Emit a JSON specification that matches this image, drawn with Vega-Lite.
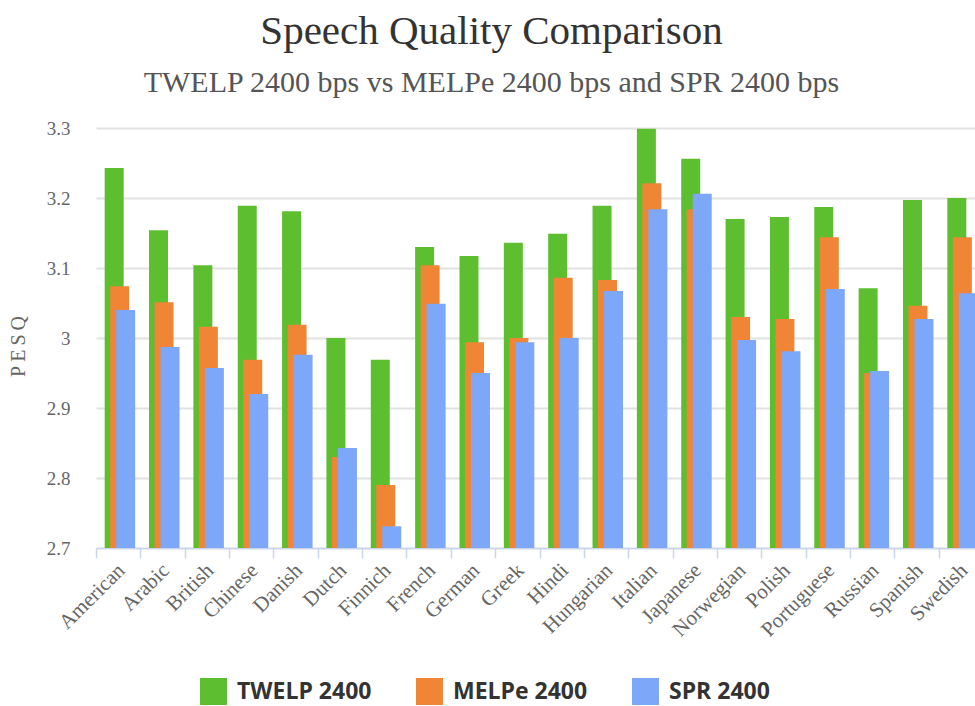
{
  "$schema": "https://vega.github.io/schema/vega-lite/v6.json",
  "autosize": {"type": "none"},
  "width": 879,
  "height": 420,
  "padding": {"left": 96, "top": 128, "right": 0, "bottom": 158},
  "background": "white",
  "config": {
    "view": {"stroke": null},
    "font": "Liberation Serif"
  },
  "title": {
    "text": "Speech Quality Comparison",
    "subtitle": "TWELP 2400 bps vs MELPe 2400 bps and SPR 2400 bps",
    "anchor": "middle",
    "dx": -44,
    "offset": 20,
    "font": "Liberation Serif",
    "fontSize": 41,
    "fontWeight": "normal",
    "color": "#333333",
    "subtitleFont": "Liberation Serif",
    "subtitleFontSize": 30,
    "subtitleColor": "#555555",
    "subtitlePadding": 15
  },
  "data": {
    "values": [
      {"lang": "American", "codec": "TWELP 2400", "pesq": 3.243},
      {"lang": "American", "codec": "MELPe 2400", "pesq": 3.074},
      {"lang": "American", "codec": "SPR 2400", "pesq": 3.040},
      {"lang": "Arabic", "codec": "TWELP 2400", "pesq": 3.154},
      {"lang": "Arabic", "codec": "MELPe 2400", "pesq": 3.051},
      {"lang": "Arabic", "codec": "SPR 2400", "pesq": 2.987},
      {"lang": "British", "codec": "TWELP 2400", "pesq": 3.104},
      {"lang": "British", "codec": "MELPe 2400", "pesq": 3.016},
      {"lang": "British", "codec": "SPR 2400", "pesq": 2.957},
      {"lang": "Chinese", "codec": "TWELP 2400", "pesq": 3.189},
      {"lang": "Chinese", "codec": "MELPe 2400", "pesq": 2.969},
      {"lang": "Chinese", "codec": "SPR 2400", "pesq": 2.920},
      {"lang": "Danish", "codec": "TWELP 2400", "pesq": 3.181},
      {"lang": "Danish", "codec": "MELPe 2400", "pesq": 3.019},
      {"lang": "Danish", "codec": "SPR 2400", "pesq": 2.976},
      {"lang": "Dutch", "codec": "TWELP 2400", "pesq": 3.000},
      {"lang": "Dutch", "codec": "MELPe 2400", "pesq": 2.830},
      {"lang": "Dutch", "codec": "SPR 2400", "pesq": 2.843},
      {"lang": "Finnich", "codec": "TWELP 2400", "pesq": 2.969},
      {"lang": "Finnich", "codec": "MELPe 2400", "pesq": 2.790},
      {"lang": "Finnich", "codec": "SPR 2400", "pesq": 2.731},
      {"lang": "French", "codec": "TWELP 2400", "pesq": 3.130},
      {"lang": "French", "codec": "MELPe 2400", "pesq": 3.104},
      {"lang": "French", "codec": "SPR 2400", "pesq": 3.049},
      {"lang": "German", "codec": "TWELP 2400", "pesq": 3.117},
      {"lang": "German", "codec": "MELPe 2400", "pesq": 2.994},
      {"lang": "German", "codec": "SPR 2400", "pesq": 2.950},
      {"lang": "Greek", "codec": "TWELP 2400", "pesq": 3.136},
      {"lang": "Greek", "codec": "MELPe 2400", "pesq": 3.000},
      {"lang": "Greek", "codec": "SPR 2400", "pesq": 2.994},
      {"lang": "Hindi", "codec": "TWELP 2400", "pesq": 3.149},
      {"lang": "Hindi", "codec": "MELPe 2400", "pesq": 3.086},
      {"lang": "Hindi", "codec": "SPR 2400", "pesq": 3.000},
      {"lang": "Hungarian", "codec": "TWELP 2400", "pesq": 3.189},
      {"lang": "Hungarian", "codec": "MELPe 2400", "pesq": 3.083},
      {"lang": "Hungarian", "codec": "SPR 2400", "pesq": 3.067},
      {"lang": "Italian", "codec": "TWELP 2400", "pesq": 3.299},
      {"lang": "Italian", "codec": "MELPe 2400", "pesq": 3.221},
      {"lang": "Italian", "codec": "SPR 2400", "pesq": 3.184},
      {"lang": "Japanese", "codec": "TWELP 2400", "pesq": 3.256},
      {"lang": "Japanese", "codec": "MELPe 2400", "pesq": 3.184},
      {"lang": "Japanese", "codec": "SPR 2400", "pesq": 3.206},
      {"lang": "Norwegian", "codec": "TWELP 2400", "pesq": 3.170},
      {"lang": "Norwegian", "codec": "MELPe 2400", "pesq": 3.030},
      {"lang": "Norwegian", "codec": "SPR 2400", "pesq": 2.997},
      {"lang": "Polish", "codec": "TWELP 2400", "pesq": 3.173},
      {"lang": "Polish", "codec": "MELPe 2400", "pesq": 3.027},
      {"lang": "Polish", "codec": "SPR 2400", "pesq": 2.981},
      {"lang": "Portuguese", "codec": "TWELP 2400", "pesq": 3.187},
      {"lang": "Portuguese", "codec": "MELPe 2400", "pesq": 3.144},
      {"lang": "Portuguese", "codec": "SPR 2400", "pesq": 3.070},
      {"lang": "Russian", "codec": "TWELP 2400", "pesq": 3.071},
      {"lang": "Russian", "codec": "MELPe 2400", "pesq": 2.950},
      {"lang": "Russian", "codec": "SPR 2400", "pesq": 2.953},
      {"lang": "Spanish", "codec": "TWELP 2400", "pesq": 3.197},
      {"lang": "Spanish", "codec": "MELPe 2400", "pesq": 3.046},
      {"lang": "Spanish", "codec": "SPR 2400", "pesq": 3.027},
      {"lang": "Swedish", "codec": "TWELP 2400", "pesq": 3.200},
      {"lang": "Swedish", "codec": "MELPe 2400", "pesq": 3.144},
      {"lang": "Swedish", "codec": "SPR 2400", "pesq": 3.064}
    ]
  },
  "encoding": {
    "x": {
      "field": "lang",
      "type": "nominal",
      "sort": null,
      "scale": {"range": [0, 887], "paddingInner": 0, "paddingOuter": 0},
      "axis": {
        "title": null,
        "domainColor": "#ccd6eb",
        "domainWidth": 1.5,
        "tickColor": "#ccd6eb",
        "tickWidth": 1.5,
        "tickSize": 10,
        "tickBand": "extent",
        "labelAngle": -45,
        "labelAlign": "right",
        "labelBaseline": "middle",
        "labelPadding": 9,
        "labelOffset": 3,
        "labelFont": "Liberation Serif",
        "labelFontSize": 21,
        "labelColor": "#666666",
        "grid": false
      }
    },
    "y": {
      "field": "pesq",
      "type": "quantitative",
      "scale": {"domain": [2.7, 3.3], "zero": false, "nice": false},
      "axis": {
        "title": "P\u2009E\u2009S\u2009Q",
        "titleFont": "Liberation Serif",
        "titleFontSize": 20,
        "titleFontWeight": "normal",
        "titleColor": "#666666",
        "titleX": -78,
        "titleY": 218,
        "titleAlign": "center",
        "titleBaseline": "middle",
        "titleAngle": -90,
        "values": [2.7, 2.8, 2.9, 3.0, 3.1, 3.2, 3.3],
        "format": ".1~f",
        "domain": false,
        "ticks": false,
        "tickSize": 0,
        "labelPadding": 26,
        "labelFont": "Liberation Serif",
        "labelFontSize": 19,
        "labelColor": "#666666",
        "gridColor": "#e2e2e2",
        "gridWidth": 2
      }
    },
    "y2": {"datum": 2.7},
    "color": {
      "field": "codec",
      "type": "nominal",
      "scale": {
        "domain": ["TWELP 2400", "MELPe 2400", "SPR 2400"],
        "range": ["#5dbf2f", "#ef8535", "#7da7f8"]
      },
      "legend": {
        "title": null,
        "orient": "none",
        "direction": "horizontal",
        "legendX": 104,
        "legendY": 550,
        "padding": 0,
        "symbolType": "square",
        "symbolSize": 729,
        "symbolStrokeWidth": 0,
        "symbolOpacity": 1,
        "labelFont": "Open Sans",
        "labelFontSize": 23,
        "labelFontWeight": "bold",
        "labelColor": "#333333",
        "labelOffset": 10,
        "columnPadding": 44,
        "labelLimit": 300
      }
    }
  },
  "layer": [
    {
      "transform": [{"filter": "datum.codec === 'TWELP 2400'"}],
      "mark": {"type": "bar", "width": 19, "xOffset": -4}
    },
    {
      "transform": [{"filter": "datum.codec === 'MELPe 2400'"}],
      "mark": {"type": "bar", "width": 19, "xOffset": 1.5}
    },
    {
      "transform": [{"filter": "datum.codec === 'SPR 2400'"}],
      "mark": {"type": "bar", "width": 19, "xOffset": 7.5}
    }
  ]
}
